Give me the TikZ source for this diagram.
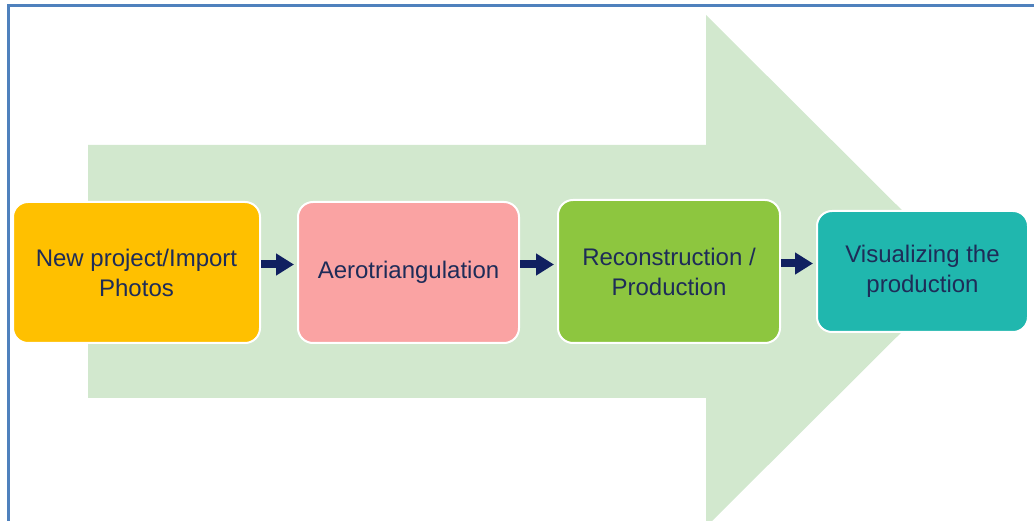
\documentclass[tikz,border=0pt]{standalone}
\usepackage{fontspec}
\setmainfont{Liberation Sans}
\usepackage{tikz}
\usetikzlibrary{arrows.meta, calc}

\definecolor{frameblue}{RGB}{79,129,189}
\definecolor{bigarrow}{RGB}{210,232,206}
\definecolor{stepyellow}{RGB}{255,192,0}
\definecolor{steppink}{RGB}{250,163,163}
\definecolor{stepgreen}{RGB}{141,198,63}
\definecolor{stepteal}{RGB}{32,183,174}
\definecolor{navy}{RGB}{16,32,96}
\definecolor{textnavy}{RGB}{30,44,88}

\begin{document}
\begin{tikzpicture}[x=1pt, y=-1pt,
  stepbox/.style={draw=white, line width=2pt, rounded corners=15pt,
    align=center, text=textnavy, font=\fontsize{24}{30}\selectfont},
  flow/.style={navy, line width=8pt, -{Triangle[length=18pt,width=21pt]},
    shorten >=3pt}]
\useasboundingbox (0,0) rectangle (1034,521);
\clip (0,0) rectangle (1034,521);
% background arrow
\fill[bigarrow] (88,145)--(706,145)--(706,15)--(963,271)--(706,527)--(706,398)--(88,398)--cycle;
% frame
\draw[frameblue, line width=3pt] (8.5,521)--(8.5,5.5)--(1034,5.5);
% steps
\path
(136.5,272.5) node[stepbox, fill=stepyellow, minimum width=247, minimum height=141] (import) {New project/Import\\Photos};
\path
(408.5,272.5) node[stepbox, fill=steppink, minimum width=221, minimum height=141] (aero) {Aerotriangulation};
\path
(669,271.5) node[stepbox, fill=stepgreen, minimum width=222, minimum height=143] (recon) {Reconstruction /\\Production};
\path
(922.5,271.5) node[stepbox, fill=stepteal, minimum width=211, minimum height=121] (visual) {Visualizing the\\production};
% connectors
\draw[flow] ([yshift=8pt]import.east) -- ([yshift=8pt]import.east -| aero.west);
\draw[flow] ([yshift=8pt]aero.east) -- ([yshift=8pt]aero.east -| recon.west);
\draw[flow] ([yshift=8pt]recon.east) -- ([yshift=8pt]recon.east -| visual.west);
\end{tikzpicture}
\end{document}
